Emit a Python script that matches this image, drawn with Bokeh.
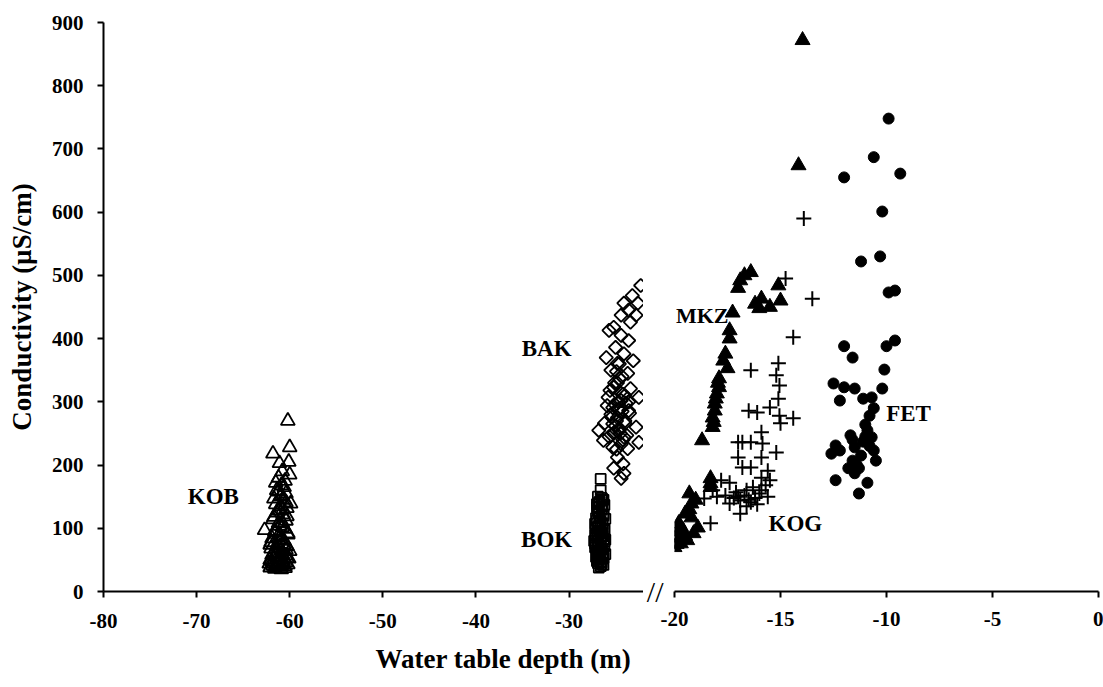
import math
from bokeh.plotting import figure
from bokeh.layouts import row
from bokeh.models import Range1d, FixedTicker, Label, Title, CustomJSTickFormatter
from bokeh.embed import file_html
from bokeh.resources import INLINE

# ---------------- data ----------------
x_ticks_left = [-80, -70, -60, -50, -40, -30]
x_ticks_right = [-20, -15, -10, -5, 0]
y_ticks = [0, 100, 200, 300, 400, 500, 600, 700, 800, 900]

KOB_x = [-60.2, -60.0, -61.8, -60.1, -61.1, -62.7, -59.9, -60.0,
         -60.8, -61.2, -60.5, -60.9, -61.4, -60.4, -61.0, -60.6, -61.5, -60.3, -61.1, -60.7, -61.7, -60.4,
         -61.2, -60.8, -61.6, -60.2, -61.0, -61.9, -60.6, -61.3, -60.3, -62.0, -60.9, -61.5, -60.4, -61.1,
         -62.1, -60.7, -61.4, -60.2, -61.8, -61.0, -60.5, -61.6, -60.9, -62.2, -60.1, -61.9, -60.0, -62.1,
         -61.5, -60.6, -61.2, -60.9, -61.7, -60.4, -61.0, -60.7, -61.4, -60.3, -61.8, -60.8, -61.1, -60.5,
         -61.6, -60.2, -61.3, -60.9, -62.0, -60.6, -61.2, -60.4, -61.7, -60.8, -61.5, -60.3, -61.0, -61.9,
         -60.7, -61.3, -60.5, -62.1, -60.9, -61.6, -60.4, -61.1]
KOB_y = [270, 228, 218, 205, 203, 97, 139, 185,
         190, 180, 175, 168, 160, 155, 150, 145, 138, 132, 128, 122, 118, 112,
         108, 102, 96, 92, 88, 84, 80, 76, 72, 68, 65, 60, 57, 54,
         50, 48, 45, 43, 41, 39, 37, 36, 35, 44, 52, 58, 64, 74,
         172, 165, 158, 152, 147, 141, 135, 130, 125, 119, 114, 109, 104, 99,
         94, 90, 86, 82, 78, 74, 70, 66, 62, 59, 56, 53, 50, 47,
         45, 42, 40, 38, 41, 39, 46, 60]

BOK_x = [-26.6, -26.6, -26.5, -26.8, -26.4, -26.9, -26.3, -26.7, -27.0, -26.4, -26.8, -27.1, -26.2, -26.6,
         -27.2, -26.4, -26.9, -26.1, -27.3, -26.6, -26.9, -26.2, -27.2, -26.5, -26.8, -27.0, -26.3, -26.7,
         -27.1, -26.4, -26.8, -26.6, -26.9, -26.5,
         -26.3, -27.0, -26.5, -26.8, -26.1, -27.2, -26.6, -26.4, -26.9, -26.2, -27.1, -26.5, -26.7, -26.3,
         -27.0, -26.6,
         -26.9, -26.4, -26.7, -26.2, -27.0, -26.5, -26.8, -26.3, -27.1, -26.6, -26.4, -26.9, -26.2, -26.7,
         -27.0, -26.5, -26.3, -26.8, -27.2, -26.6, -26.4, -26.9, -26.1, -26.7, -27.0, -26.5, -26.3, -26.8]
BOK_y = [178, 160, 148, 140, 135, 128, 122, 118, 112, 108, 104, 100, 97, 94,
         90, 88, 85, 82, 80, 78, 75, 72, 70, 68, 65, 62, 60, 57,
         55, 52, 50, 47, 45, 43,
         145, 138, 131, 125, 115, 107, 101, 92, 86, 79, 73, 66, 58, 53,
         48, 40,
         150, 146, 142, 137, 133, 129, 124, 120, 116, 111, 106, 102, 98, 95,
         91, 87, 83, 79, 76, 71, 67, 63, 59, 56, 51, 46, 42, 38]

BAK_x = [-22.3, -23.2, -22.6, -24.1, -23.6, -24.4, -22.8, -23.4, -25.2, -25.7, -24.4, -23.6, -25.0, -26.0,
         -24.1, -23.1, -24.8, -25.5, -23.7, -24.6, -25.2, -23.4, -22.5, -25.8, -24.4, -25.3, -23.6, -24.8,
         -26.2, -24.0, -22.8, -26.8, -25.2, -24.1, -26.3, -22.5, -25.3, -23.7, -24.8, -24.2, -25.2, -24.1,
         -24.4, -24.8, -24.5, -25.0, -24.3, -24.9, -24.6, -25.5, -24.0, -25.3, -24.2,
         -24.6, -24.9, -24.3, -25.1, -24.7, -24.4, -25.0, -24.5,
         -25.6, -24.2, -23.9, -25.9, -24.7, -23.5, -25.4, -24.0, -24.6, -25.1, -23.8, -24.4, -25.7, -24.9,
         -23.6]
BAK_y = [484, 468, 456, 456, 445, 437, 437, 426, 418, 413, 405, 397, 386, 370,
         376, 365, 361, 350, 345, 337, 323, 321, 307, 307, 302, 291, 286, 275,
         266, 266, 260, 255, 250, 244, 239, 236, 228, 226, 212, 202, 195, 187,
         179, 330, 315, 295, 285, 270, 255, 280, 310, 265, 240,
         360, 348, 340, 330, 300, 290, 262, 250,
         318, 312, 298, 294, 288, 282, 276, 270, 258, 252, 247, 233, 245, 225,
         300]

MKZ_x = [-13.96, -14.15, -16.4, -16.7, -16.9, -17.0, -17.26, -15.9, -16.0, -15.5, -15.1, -15.0, -16.2, -17.4,
         -17.4, -17.6, -17.5, -17.7, -17.9, -17.9, -18.0, -18.1, -18.1, -18.2, -18.2, -17.95, -18.05, -18.15,
         -18.7, -18.3, -18.3, -18.3, -19.3, -19.2, -19.5, -19.2, -19.8, -19.6, -19.95, -19.4, -20.0, -19.1,
         -19.7, -18.9, -19.3, -19.0, -19.85, -19.5, -19.9]
MKZ_y = [872, 674, 505, 500, 492, 480, 441, 463, 448, 450, 484, 460, 455, 413,
         400, 376, 353, 365, 337, 323, 313, 297, 286, 275, 260, 330, 305, 268,
         239, 179, 171, 165, 155, 139, 123, 117, 108, 97, 85, 81, 70, 92,
         76, 101, 130, 145, 95, 88, 75]

KOG_x = [-13.9, -14.76, -13.5, -14.4, -16.4, -15.1, -15.2, -15.05, -15.1, -15.5, -16.1, -16.5, -15.05, -14.4,
         -15.0, -15.9, -16.8, -16.4, -17.0, -15.85, -15.2, -17.0, -15.9, -16.8, -16.4, -15.6, -15.9, -17.4,
         -17.8, -15.5, -18.2, -17.1, -16.6, -15.9, -18.6, -16.9, -16.4, -17.4, -16.9, -18.3, -17.0, -16.7,
         -16.2, -16.0, -16.5, -17.2, -15.7, -16.3, -15.6, -17.6, -18.0, -16.6, -16.1]
KOG_y = [590, 495, 463, 402, 350, 361, 342, 326, 305, 291, 283, 286, 278, 274,
         266, 252, 236, 236, 236, 234, 220, 212, 212, 196, 196, 191, 180, 172,
         176, 176, 160, 157, 160, 160, 147, 144, 141, 139, 123, 108, 150, 152,
         148, 155, 145, 148, 168, 165, 150, 152, 150, 135, 138]

FET_x = [-9.9, -10.6, -9.35, -12.0, -10.2, -10.3, -11.2, -9.9, -9.6, -9.6, -10.0, -12.0, -11.6, -10.1,
         -10.2, -12.0, -11.5, -10.7, -11.1, -10.6, -10.8, -11.0, -11.7, -10.7, -11.1, -11.5, -10.6, -10.5,
         -11.6, -11.3, -11.5, -10.9, -11.3, -12.2, -12.5, -12.2, -12.4, -12.6, -12.4, -11.8, -11.0, -10.8,
         -11.2, -11.4, -10.9, -11.6]
FET_y = [748, 687, 661, 655, 601, 530, 522, 473, 476, 397, 388, 388, 370, 351,
         321, 323, 321, 307, 305, 290, 278, 264, 247, 244, 237, 228, 223, 207,
         207, 195, 187, 172, 155, 223, 329, 302, 231, 218, 176, 195, 245, 230,
         215, 200, 255, 240]

# ---------------- styling ----------------
FONT = "Liberation Serif"
H = 686
common = dict(height=H, y_range=Range1d(0, 900), output_backend="svg", toolbar_location=None,
              min_border_top=22, min_border_bottom=H - 22 - 569)

left = figure(width=643, x_range=Range1d(-80, -22), min_border_left=103, min_border_right=0, **common)
right = figure(width=460, x_range=Range1d(-20, 0), min_border_left=31, min_border_right=5, **common)
right.y_range = left.y_range

fmt = "return String(tick);"
for p in (left, right):
    p.outline_line_color = None
    p.xgrid.visible = False
    p.ygrid.visible = False
    p.background_fill_color = "white"
    p.border_fill_color = "white"
    for ax in p.axis:
        ax.axis_line_color = "black"
        ax.axis_line_width = 2
        ax.major_tick_line_color = "black"
        ax.major_tick_line_width = 2
        ax.major_tick_out = 6
        ax.major_tick_in = 0
        ax.minor_tick_out = 0
        ax.minor_tick_in = 0
        ax.major_label_text_font = FONT
        ax.major_label_text_font_style = "bold"
        ax.major_label_text_font_size = "21px"
        ax.major_label_text_color = "black"
        ax.formatter = CustomJSTickFormatter(code=fmt)

left.xaxis.ticker = FixedTicker(ticks=x_ticks_left)
right.xaxis.ticker = FixedTicker(ticks=x_ticks_right)
left.xaxis.major_label_standoff = 16
right.xaxis.major_label_standoff = 14
left.yaxis.ticker = FixedTicker(ticks=y_ticks)
left.yaxis.major_label_standoff = 14
left.yaxis.axis_label = "Conductivity (µS/cm)"
left.yaxis.axis_label_text_font = FONT
left.yaxis.axis_label_text_font_style = "bold"
left.yaxis.axis_label_text_font_size = "27px"
left.yaxis.axis_label_text_color = "black"
left.yaxis.axis_label_standoff = 12

# axis-break mark "//" drawn as the only tick label of the right panel's hidden y axis
right.yaxis.ticker = FixedTicker(ticks=[0])
right.yaxis.major_label_overrides = {0: "//"}
right.yaxis.axis_line_color = None
right.yaxis.major_tick_out = 0
right.yaxis.major_tick_line_color = None
right.yaxis.major_label_text_font_style = "normal"
right.yaxis.major_label_text_font_size = "30px"
right.yaxis.major_label_standoff = 11

# x-axis title (spans the broken axis, placed under the left panel)
left.add_layout(Title(text="Water table depth (m)", align="left", offset=272, standoff=22,
                      text_font=FONT, text_font_style="bold", text_font_size="27px",
                      text_color="black"), "below")

# series
left.scatter(KOB_x, KOB_y, marker="triangle", size=14, fill_color=None, line_color="black", line_width=1.8)
left.scatter(BOK_x, BOK_y, marker="square", size=10, fill_color=None, line_color="black", line_width=1.8)
left.scatter(BAK_x, BAK_y, marker="square", angle=math.pi / 4, size=9.5, fill_color=None,
             line_color="black", line_width=1.8)
right.scatter(MKZ_x, MKZ_y, marker="triangle", size=15, fill_color="black", line_color="black")
right.scatter(KOG_x, KOG_y, marker="cross", size=15, line_color="black", line_width=2)
right.scatter(FET_x, FET_y, marker="circle", size=11, fill_color="black", line_color="black")

lab = dict(text_font=FONT, text_font_style="bold", text_font_size="23px", text_color="black",
           text_align="center", text_baseline="middle")
left.add_layout(Label(x=-68.2, y=150, text="KOB", **lab))
left.add_layout(Label(x=-32.4, y=384, text="BAK", **lab))
left.add_layout(Label(x=-32.4, y=83, text="BOK", **lab))
right.add_layout(Label(x=-19.93, y=437, text="MKZ", text_font=FONT, text_font_style="bold",
                       text_font_size="22px", text_color="black", text_align="left",
                       text_baseline="middle"))
right.add_layout(Label(x=-14.3, y=108, text="KOG", **lab))
right.add_layout(Label(x=-8.96, y=282, text="FET", **lab))

layout = row(left, right)
open("out.html", "w").write(file_html(layout, INLINE))
